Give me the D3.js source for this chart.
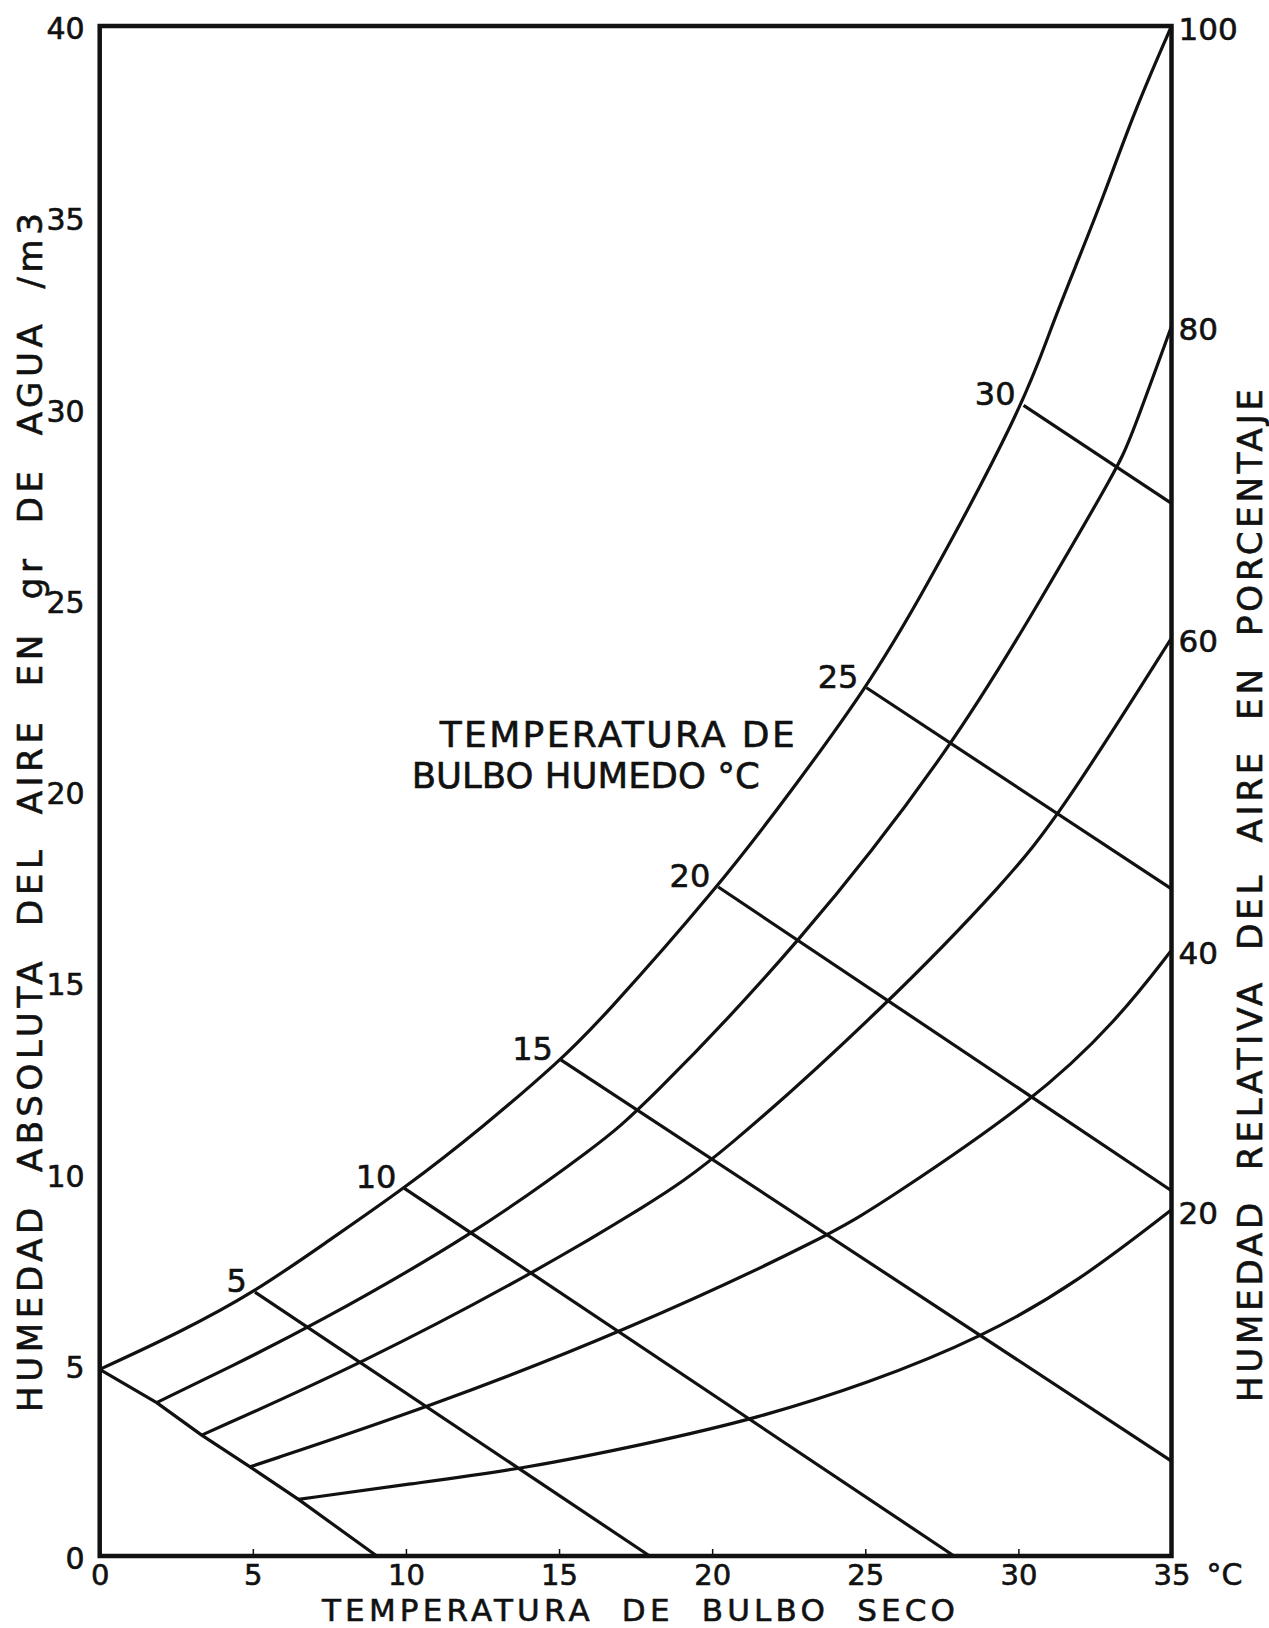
<!DOCTYPE html>
<html>
<head>
<meta charset="utf-8">
<script src="https://d3js.org/d3.v7.min.js"></script>
<style>
  body { margin: 0; background: #fff; }
  text { font-family: "DejaVu Sans", sans-serif; fill: #111; stroke: #111; stroke-width: 0.6px; }
</style>
</head>
<body>
<div id="chart"></div>
<script>
// dry bulb temperature (x) and absolute humidity (y) ticks
var tempTicks = [0, 5, 10, 15, 20, 25, 30, 35];
var humTicks = [0, 5, 10, 15, 20, 25, 30, 35, 40];

// relative humidity curves, [temp, g/m3]
var rhNames = ["100", "80", "60", "40", "20"];
var rh100 = [[0, 4.88], [2.6, 5.84], [5.07, 6.90], [7.5, 8.26], [9.95, 9.61], [12.51, 11.21], [15.06, 12.97], [16.34, 13.99], [20.2, 17.49], [22.59, 20.0], [25.04, 22.7], [26.78, 25.0], [30.17, 30.08], [31.03, 32.05], [31.91, 33.80], [32.78, 35.54], [33.76, 37.72], [35, 40]];
var rh80 = [[1.86, 4.01], [4.35, 4.98], [6.86, 5.98], [12.22, 8.40], [16.34, 10.79], [17.65, 11.66], [22.86, 15.99], [27.92, 21.22], [30.8, 25.1], [33.24, 28.46], [33.65, 29.18], [35, 32.15]];
var rh60 = [[3.33, 3.16], [8.61, 5.05], [14.2, 7.41], [17.97, 9.22], [20.09, 10.33], [25.78, 14.46], [29.62, 17.67], [31.37, 19.4], [35, 24.0]];
var rh40 = [[4.91, 2.33], [10.78, 3.9], [17.14, 5.87], [23.84, 8.37], [25.71, 9.31], [30.53, 11.92], [33.21, 13.99], [35, 15.84]];
var rh20 = [[6.49, 1.48], [10.18, 1.89], [13.85, 2.28], [17.97, 2.95], [21.43, 3.59], [25.09, 4.51], [28.86, 5.73], [31.96, 7.17], [35, 9.05]];

// wet bulb lines
var wbNames = ["", "5", "10", "15", "20", "25", "30"];
var wb0 = [[0, 4.88], [1.86, 4.01], [3.33, 3.16], [4.91, 2.33], [6.49, 1.48], [9.05, 0]];
var wb5 = [[5.07, 6.90], [17.96, 0]];
var wb10 = [[9.95, 9.61], [27.9, 0]];
var wb15 = [[15.06, 12.97], [35, 2.48]];
var wb20 = [[20.2, 17.49], [35, 9.55]];
var wb25 = [[25.04, 22.7], [35, 17.44]];
var wb30 = [[30.17, 30.08], [35, 27.52]];

var rhCurves = [rh100, rh80, rh60, rh40, rh20];
var wbLines = [wb0, wb5, wb10, wb15, wb20, wb25, wb30];

var svgWidth = 1269;
var svgHeight = 1628;

var margin = {
  top: 26,
  right: 97.5,
  bottom: 72,
  left: 99.7
};

var width = svgWidth - margin.left - margin.right;
var height = svgHeight - margin.top - margin.bottom;

var svg = d3.select("#chart")
  .append("svg")
  .attr("width", svgWidth)
  .attr("height", svgHeight);

var chartGroup = svg.append("g")
  .attr("transform", `translate(${margin.left}, ${margin.top})`);

var xScale = d3.scaleLinear()
  .domain([0, 35])
  .range([0, width]);

var yScale = d3.scaleLinear()
  .domain([0, 40])
  .range([height, 0]);

// axes
var bottomAxis = d3.axisBottom(xScale)
  .tickValues(tempTicks)
  .tickSize(-7)
  .tickPadding(8);

var leftAxis = d3.axisLeft(yScale)
  .tickValues(humTicks)
  .tickSize(0)
  .tickPadding(15);

var xAxisG = chartGroup.append("g")
  .attr("transform", `translate(0, ${height})`)
  .call(bottomAxis);
xAxisG.select(".domain").remove();
xAxisG.selectAll(".tick line").attr("stroke", "#111").attr("stroke-width", 1.5);
xAxisG.selectAll("text")
  .attr("font-size", "29px")
  .attr("fill", "#111")
  .style("font-family", "DejaVu Sans");

var yAxisG = chartGroup.append("g")
  .call(leftAxis);
yAxisG.select(".domain").remove();
yAxisG.selectAll("text")
  .attr("font-size", "30px")
  .attr("fill", "#111")
  .attr("dy", "0.42em")
  .style("font-family", "DejaVu Sans");

// lines
var line = d3.line()
  .x(d => xScale(d[0]))
  .y(d => yScale(d[1]));

var curve = d3.line()
  .x(d => xScale(d[0]))
  .y(d => yScale(d[1]))
  .curve(d3.curveBasis);

chartGroup.selectAll(".wb")
  .data(wbLines)
  .enter()
  .append("path")
  .attr("class", "wb")
  .attr("d", line)
  .attr("fill", "none")
  .attr("stroke", "#111")
  .attr("stroke-width", 3.2)
  .attr("stroke-linejoin", "round");

chartGroup.selectAll(".rh")
  .data(rhCurves)
  .enter()
  .append("path")
  .attr("class", "rh")
  .attr("d", curve)
  .attr("fill", "none")
  .attr("stroke", "#111")
  .attr("stroke-width", 3.2);

// frame
chartGroup.append("rect")
  .attr("x", 0)
  .attr("y", 0)
  .attr("width", width)
  .attr("height", height)
  .attr("fill", "none")
  .attr("stroke", "#111")
  .attr("stroke-width", 4.5);

// wet bulb labels at the saturation curve
chartGroup.selectAll(".wbLabel")
  .data(wbLines.slice(1))
  .enter()
  .append("text")
  .attr("class", "wbLabel")
  .attr("x", d => xScale(d[0][0]) - 8)
  .attr("y", d => yScale(d[0][1]))
  .attr("text-anchor", "end")
  .attr("font-size", "32px")
  .text((d, i) => wbNames[i + 1]);

// relative humidity labels on the right
chartGroup.selectAll(".rhLabel")
  .data(rhCurves)
  .enter()
  .append("text")
  .attr("class", "rhLabel")
  .attr("x", width + 7)
  .attr("y", d => yScale(d[d.length - 1][1]) + 14)
  .attr("font-size", "31px")
  .text((d, i) => rhNames[i]);

chartGroup.append("text")
  .attr("x", width + 35)
  .attr("y", height + 29)
  .attr("font-size", "30px")
  .text("°C");

// titles
chartGroup.append("text")
  .attr("x", 340)
  .attr("y", 721)
  .attr("font-size", "36px")
  .attr("textLength", 355)
  .attr("lengthAdjust", "spacing")
  .style("white-space", "pre")
  .text("TEMPERATURA DE");

chartGroup.append("text")
  .attr("x", 312)
  .attr("y", 762)
  .attr("font-size", "36px")
  .attr("textLength", 348)
  .attr("lengthAdjust", "spacingAndGlyphs")
  .style("white-space", "pre")
  .text("BULBO HUMEDO °C");

svg.append("text")
  .attr("x", 322)
  .attr("y", 1620.5)
  .attr("font-size", "31px")
  .attr("textLength", 633)
  .attr("lengthAdjust", "spacing")
  .style("white-space", "pre")
  .text("TEMPERATURA  DE  BULBO  SECO");

svg.append("text")
  .attr("transform", "translate(42, 1412) rotate(-90)")
  .attr("font-size", "34px")
  .attr("textLength", 1199)
  .attr("lengthAdjust", "spacing")
  .style("white-space", "pre")
  .text("HUMEDAD  ABSOLUTA  DEL  AIRE  EN  gr  DE  AGUA  /m3");

svg.append("text")
  .attr("transform", "translate(1262, 1402) rotate(-90)")
  .attr("font-size", "34px")
  .attr("textLength", 1013)
  .attr("lengthAdjust", "spacing")
  .style("white-space", "pre")
  .text("HUMEDAD  RELATIVA  DEL  AIRE  EN  PORCENTAJE");
</script>
</body>
</html>
